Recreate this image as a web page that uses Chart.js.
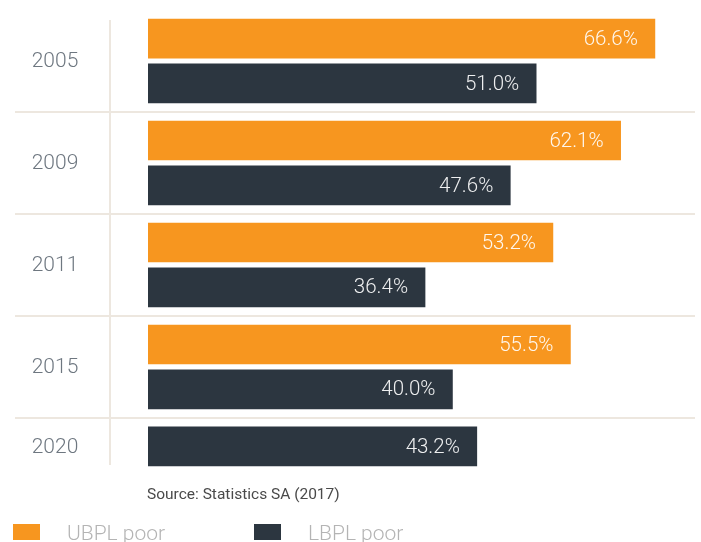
<!DOCTYPE html>
<html>
<head>
<meta charset="utf-8">
<script src="https://cdn.jsdelivr.net/npm/chart.js@4"></script>
<style>
  html, body { margin: 0; padding: 0; background: #fff; }
  .wrap { position: relative; width: 701px; height: 542px; overflow: hidden; }
</style>
</head>
<body>
<div class="wrap"><canvas id="chart" width="701" height="542"></canvas></div>
<script>
// ==========================================
// DATA
// ==========================================
const years = ['2005', '2009', '2011', '2015', '2020'];
const ubplPoor = [66.6, 62.1, 53.2, 55.5, null];
const lbplPoor = [51.0, 47.6, 36.4, 40.0, 43.2];
const seriesNames = ['UBPL poor', 'LBPL poor'];
const sourceNote = 'Source: Statistics SA (2017)';

const ORANGE = '#f7961f';
const DARK = '#2c3640';
const GRID = '#ede7df';

// ==========================================
// ROW LAYOUT (row units: a two-bar row = 1)
// ==========================================
const EDGE = 0.28;   // from row edge to first bar centre
const STEP = 0.44;   // between bar centres inside a row
const ubplPts = [], lbplPts = [], rowCentres = [], rowStarts = [];
let cursor = 0;
years.forEach((yr, i) => {
  const vals = [ubplPoor[i], lbplPoor[i]];
  const present = vals.filter(v => v !== null).length;
  const h = 2 * EDGE + STEP * (present - 1);
  rowStarts.push(cursor);
  let k = 0;
  vals.forEach((v, s) => {
    if (v === null) return;
    const pos = cursor + EDGE + STEP * k;
    (s === 0 ? ubplPts : lbplPts).push({ x: v, y: pos });
    k++;
  });
  rowCentres.push(cursor + h / 2);
  cursor += h;
});
const totalRows = cursor;

// ==========================================
// PLUGINS: grid, year labels, value labels, source + legend
// ==========================================
const decorPlugin = {
  id: 'decor',
  beforeDatasetsDraw(chart) {
    const { ctx, chartArea, scales } = chart;
    const y = scales.y;
    ctx.save();
    ctx.strokeStyle = GRID;
    ctx.lineWidth = 2;
    rowStarts.slice(1).forEach(r => {
      const py = Math.round(y.getPixelForValue(r));
      ctx.beginPath();
      ctx.moveTo(15, py);
      ctx.lineTo(695, py);
      ctx.stroke();
    });
    ctx.beginPath();
    ctx.moveTo(110, chartArea.top + 10);
    ctx.lineTo(110, chartArea.bottom - 10);
    ctx.stroke();

    ctx.fillStyle = '#6e7780';
    ctx.font = '300 21px Roboto';
    ctx.textAlign = 'center';
    ctx.textBaseline = 'middle';
    years.forEach((yr, i) => {
      ctx.fillText(yr, 55, y.getPixelForValue(rowCentres[i]) + 1);
    });
    ctx.restore();
  },
  afterDatasetsDraw(chart) {
    const { ctx } = chart;
    ctx.save();
    ctx.fillStyle = 'rgba(255,255,255,0.92)';
    ctx.font = '300 20.5px Roboto';
    ctx.textAlign = 'right';
    ctx.textBaseline = 'middle';
    chart.data.datasets.forEach((ds, di) => {
      chart.getDatasetMeta(di).data.forEach((bar, i) => {
        ctx.fillText(ds.data[i].x.toFixed(1) + '%', bar.x - 17, bar.y + 1);
      });
    });

    // source note
    ctx.fillStyle = '#4a4a4a';
    ctx.font = '400 15.5px Roboto';
    ctx.textAlign = 'left';
    ctx.textBaseline = 'alphabetic';
    ctx.fillText(sourceNote, 147, 499);

    // legend
    const legendX = [13, 254];
    const colors = [ORANGE, DARK];
    ctx.font = '300 21px Roboto';
    seriesNames.forEach((name, i) => {
      ctx.fillStyle = colors[i];
      ctx.fillRect(legendX[i], 524, 27, 16);
      ctx.fillStyle = '#b4b4b4';
      ctx.fillText(name, legendX[i] + 54, 540);
    });
    ctx.restore();
  }
};

// ==========================================
// CHART
// ==========================================
new Chart(document.getElementById('chart').getContext('2d'), {
  type: 'bar',
  data: {
    datasets: [
      { label: seriesNames[0], data: ubplPts, backgroundColor: ORANGE },
      { label: seriesNames[1], data: lbplPts, backgroundColor: DARK }
    ]
  },
  options: {
    indexAxis: 'y',
    responsive: false,
    animation: false,
    grouped: false,
    barThickness: 39,
    borderWidth: 0,
    layout: { padding: { left: 148, right: 5, top: 10, bottom: 67 } },
    plugins: { legend: { display: false }, tooltip: { enabled: false } },
    scales: {
      x: { type: 'linear', min: 0, max: 72, display: false },
      y: { type: 'linear', min: 0, max: totalRows, reverse: true, offset: false, display: false }
    }
  },
  plugins: [decorPlugin]
});
</script>
</body>
</html>
